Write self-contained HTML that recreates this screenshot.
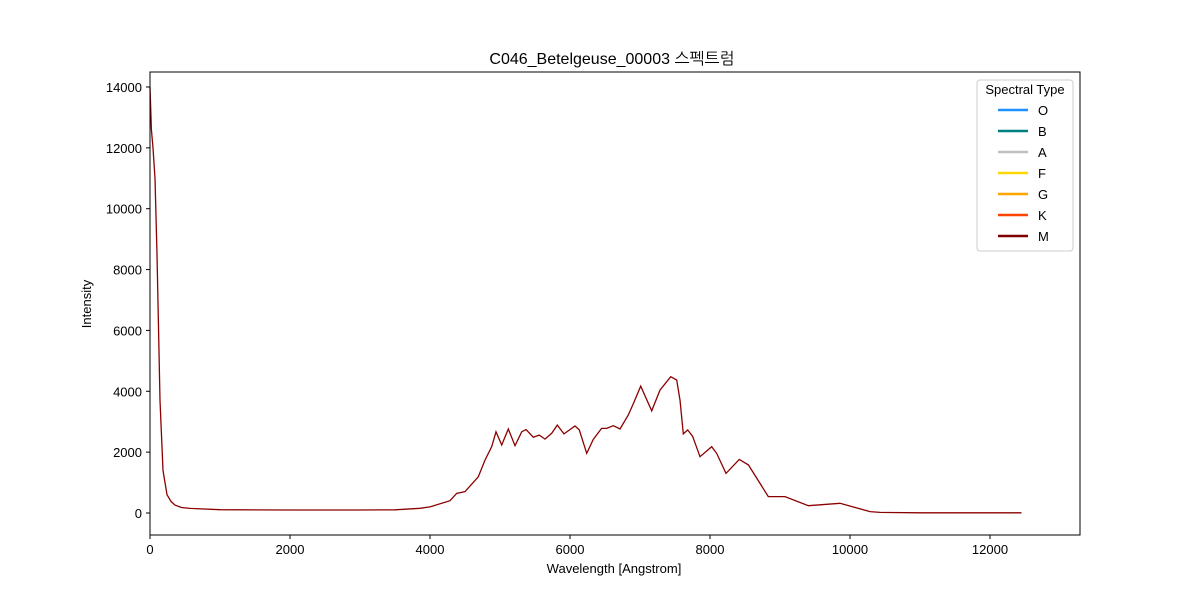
<!DOCTYPE html>
<html><head><meta charset="utf-8"><style>
body{margin:0;background:#fff}
svg{display:block;font-family:"Liberation Sans","NanumGothic","Noto Sans CJK KR",sans-serif}
</style></head><body>
<svg id="chart" width="1200" height="600">
<rect width="1200" height="600" fill="#fff"/>
<text x="612" y="64" text-anchor="middle" font-size="16">C046_Betelgeuse_00003 스펙트럼</text>
<g id="axes"></g>
<path id="line" fill="none" stroke="#8b0000" stroke-width="1.3"/>
<rect x="150" y="72" width="930" height="463" fill="none" stroke="#000" stroke-width="1"/>
<text x="614" y="573" text-anchor="middle" font-size="13">Wavelength [Angstrom]</text>
<text transform="translate(91,304) rotate(-90)" text-anchor="middle" font-size="13">Intensity</text>
<g id="legend">
<rect x="977" y="80" width="96" height="171" rx="3" fill="#fff" stroke="#ccc"/>
<text x="1025" y="94" text-anchor="middle" font-size="13">Spectral Type</text>
</g>
</svg>
<script>
const wavelengths=[0,20,43,71,100,143,186,243,300,357,450,571,1000,2000,3000,3500,3857,4000,4286,4381,4500,4690,4786,4881,4943,5024,5119,5214,5310,5372,5476,5562,5643,5738,5819,5914,6071,6133,6238,6333,6452,6524,6619,6714,6833,6905,7010,7167,7286,7438,7524,7571,7619,7681,7752,7857,8024,8095,8229,8419,8548,8833,9071,9405,9857,10286,10429,11000,12000,12450];
const intensity=[14000,12600,12000,11000,8500,3700,1400,600,380,260,180,150,110,100,100,105,153,200,405,646,700,1190,1740,2180,2670,2235,2760,2210,2670,2740,2490,2560,2430,2620,2890,2600,2860,2730,1960,2420,2780,2780,2870,2760,3220,3600,4170,3360,4040,4480,4370,3710,2600,2730,2520,1850,2180,1960,1300,1760,1580,540,540,240,320,45,20,8,5,5];
const xTicks=[0,2000,4000,6000,8000,10000,12000];
const yTicks=[0,2000,4000,6000,8000,10000,12000,14000];
const types=["O","B","A","F","G","K","M"];
const typeColors=["#1e90ff","#008080","#c0c0c0","#ffd700","#ffa500","#ff4500","#800000"];
const X=v=>150+v*0.07, Y=v=>513-v*0.03043;
const NS="http://www.w3.org/2000/svg";
const ax=document.getElementById('axes');
function mk(t,a,p){const e=document.createElementNS(NS,t);for(const k in a)e.setAttribute(k,a[k]);(p||ax).appendChild(e);return e;}
xTicks.forEach(v=>{
 const l=mk('line',{x1:X(v),x2:X(v),y1:535,y2:539,stroke:'#000'});
 
 
 const t=mk('text',{x:X(v),y:554,'text-anchor':'middle','font-size':13});t.textContent=v;
 
 
});
yTicks.forEach(v=>{
 const l=mk('line',{x1:146,x2:150,y1:Y(v),y2:Y(v),stroke:'#000'});
 
 
 const t=mk('text',{x:142,y:Y(v)+5,'text-anchor':'end','font-size':13});t.textContent=v;
 
 
});
document.getElementById('line').setAttribute('d',wavelengths.map((w,i)=>(i?'L':'M')+X(w).toFixed(1)+','+Y(intensity[i]).toFixed(1)).join(''));
const lg=document.getElementById('legend');
types.forEach((s,i)=>{
 const y=110+i*21;
 const l=mk('line',{x1:998,x2:1028,y1:y,y2:y,stroke:typeColors[i],'stroke-width':2.5},lg);
 
 
 const t=mk('text',{x:1038,y:y+5,'font-size':13},lg);t.textContent=s;
 
 
});
</script>
</body></html>
